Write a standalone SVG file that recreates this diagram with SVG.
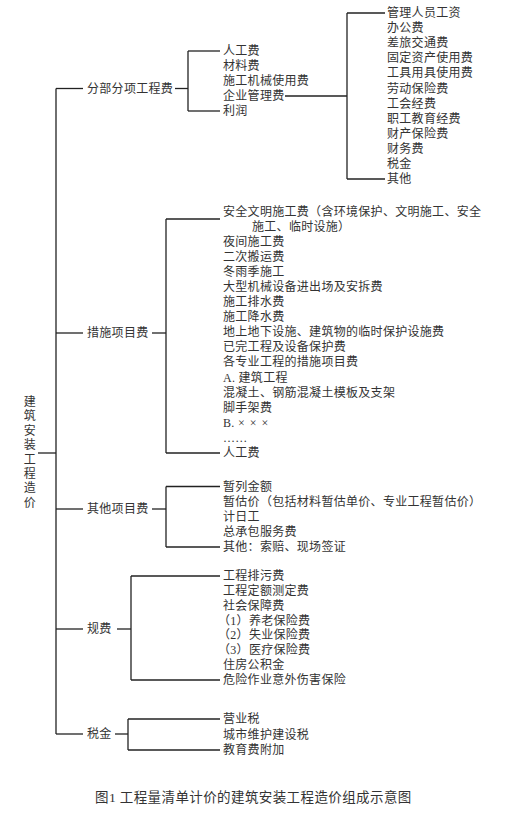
<svg xmlns="http://www.w3.org/2000/svg" width="512" height="819" viewBox="0 0 512 819">
<style>
text{font-family:"Liberation Serif","Noto Sans CJK SC",serif;font-size:12px;fill:#333;dominant-baseline:central;letter-spacing:0.3px}
.cap{font-size:13.5px;letter-spacing:0.4px}
.x{letter-spacing:5px}
.c line{stroke:#222;stroke-width:1.3;fill:none}
</style>
<rect width="512" height="819" fill="#fff"/>
<g class="c" id="connectors">
<line x1="38" y1="453" x2="56" y2="453"/>
<line x1="56" y1="88.5" x2="56" y2="734"/>
<line x1="56" y1="88.5" x2="83" y2="88.5"/>
<line x1="56" y1="333" x2="83" y2="333"/>
<line x1="56" y1="509" x2="83" y2="509"/>
<line x1="56" y1="629" x2="83" y2="629"/>
<line x1="56" y1="734" x2="83" y2="734"/>
<line x1="175" y1="88.5" x2="188" y2="88.5"/>
<line x1="188" y1="51" x2="188" y2="111"/>
<line x1="188" y1="51" x2="220" y2="51"/>
<line x1="188" y1="111" x2="220" y2="111"/>
<line x1="285" y1="96" x2="347" y2="96"/>
<line x1="347" y1="13" x2="347" y2="179"/>
<line x1="347" y1="13" x2="385" y2="13"/>
<line x1="347" y1="179" x2="385" y2="179"/>
<line x1="152" y1="333" x2="166" y2="333"/>
<line x1="166" y1="219" x2="166" y2="453"/>
<line x1="166" y1="219" x2="220" y2="219"/>
<line x1="166" y1="453" x2="220" y2="453"/>
<line x1="152" y1="509" x2="166" y2="509"/>
<line x1="166" y1="486.5" x2="166" y2="547"/>
<line x1="166" y1="486.5" x2="220" y2="486.5"/>
<line x1="166" y1="547" x2="220" y2="547"/>
<line x1="117" y1="629" x2="131" y2="629"/>
<line x1="131" y1="576" x2="131" y2="680"/>
<line x1="131" y1="576" x2="220" y2="576"/>
<line x1="131" y1="680" x2="220" y2="680"/>
<line x1="115" y1="734" x2="128" y2="734"/>
<line x1="128" y1="719" x2="128" y2="750"/>
<line x1="128" y1="719" x2="220" y2="719"/>
<line x1="128" y1="750" x2="220" y2="750"/>
</g>
<g id="root">
<text x="30" y="402" text-anchor="middle">建</text>
<text x="30" y="416.4" text-anchor="middle">筑</text>
<text x="30" y="430.8" text-anchor="middle">安</text>
<text x="30" y="445.2" text-anchor="middle">装</text>
<text x="30" y="459.6" text-anchor="middle">工</text>
<text x="30" y="474" text-anchor="middle">程</text>
<text x="30" y="488.4" text-anchor="middle">造</text>
<text x="30" y="502.8" text-anchor="middle">价</text>
</g>
<g id="n-fbfx"><text x="87" y="88.5">分部分项工程费</text></g>
<g id="n-fbfx-items">
<text x="223" y="51">人工费</text>
<text x="223" y="66">材料费</text>
<text x="223" y="81">施工机械使用费</text>
<text x="223" y="96">企业管理费</text>
<text x="223" y="111">利润</text>
</g>
<g id="n-glf-items">
<text x="387" y="13">管理人员工资</text>
<text x="387" y="28.1">办公费</text>
<text x="387" y="43.2">差旅交通费</text>
<text x="387" y="58.3">固定资产使用费</text>
<text x="387" y="73.4">工具用具使用费</text>
<text x="387" y="88.5">劳动保险费</text>
<text x="387" y="103.5">工会经费</text>
<text x="387" y="118.6">职工教育经费</text>
<text x="387" y="133.7">财产保险费</text>
<text x="387" y="148.8">财务费</text>
<text x="387" y="163.9">税金</text>
<text x="387" y="179">其他</text>
</g>
<g id="n-csxm"><text x="87" y="333">措施项目费</text></g>
<g id="n-csxm-items">
<text x="223" y="211.5">安全文明施工费（含环境保护、文明施工、安全</text>
<text x="252" y="226.6">施工、临时设施）</text>
<text x="223" y="241.7">夜间施工费</text>
<text x="223" y="256.8">二次搬运费</text>
<text x="223" y="271.9">冬雨季施工</text>
<text x="223" y="287">大型机械设备进出场及安拆费</text>
<text x="223" y="302">施工排水费</text>
<text x="223" y="317.1">施工降水费</text>
<text x="223" y="332.2">地上地下设施、建筑物的临时保护设施费</text>
<text x="223" y="347.3">已完工程及设备保护费</text>
<text x="223" y="362.4">各专业工程的措施项目费</text>
<text x="223" y="377.5">A. 建筑工程</text>
<text x="223" y="392.6">混凝土、钢筋混凝土模板及支架</text>
<text x="223" y="407.7">脚手架费</text>
<text x="223" y="422.8">B. <tspan class="x">×××</tspan></text>
<text x="223" y="437.9">……</text>
<text x="223" y="453">人工费</text>
</g>
<g id="n-qtxm"><text x="87" y="509">其他项目费</text></g>
<g id="n-qtxm-items">
<text x="223" y="486.5">暂列金额</text>
<text x="223" y="501.6">暂估价（包括材料暂估单价、专业工程暂估价）</text>
<text x="223" y="516.7">计日工</text>
<text x="223" y="531.8">总承包服务费</text>
<text x="223" y="547">其他：索赔、现场签证</text>
</g>
<g id="n-gf"><text x="87" y="629">规费</text></g>
<g id="n-gf-items">
<text x="223" y="576">工程排污费</text>
<text x="223" y="590.9">工程定额测定费</text>
<text x="223" y="605.7">社会保障费</text>
<text x="218" y="620.6">（1）养老保险费</text>
<text x="218" y="635.4">（2）失业保险费</text>
<text x="218" y="650.3">（3）医疗保险费</text>
<text x="223" y="665.1">住房公积金</text>
<text x="223" y="680">危险作业意外伤害保险</text>
</g>
<g id="n-sj"><text x="87" y="734">税金</text></g>
<g id="n-sj-items">
<text x="223" y="719">营业税</text>
<text x="223" y="734.5">城市维护建设税</text>
<text x="223" y="750">教育费附加</text>
</g>
<g id="caption"><text class="cap" x="95" y="797">图1 工程量清单计价的建筑安装工程造价组成示意图</text></g>
</svg>
